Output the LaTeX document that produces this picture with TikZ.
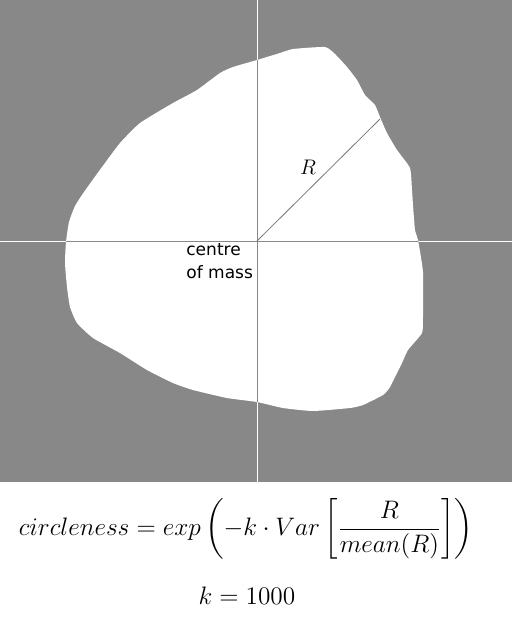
\documentclass[tikz,border=0pt]{standalone}
\usepackage{fontspec}
\usepackage{amsmath}
\usetikzlibrary{positioning}
\newfontfamily\labelfont{DejaVu Sans}
\definecolor{bggray}{RGB}{136,136,136}
\definecolor{radgray}{RGB}{120,120,120}
% outline of the particle, pixel coordinates (y down)
\def\blobpath{plot[smooth cycle, tension=0.3] coordinates {
  (257,60) (280,53) (293,49) (325,47) (335,54) (347,67) (357,80) (365,95)
  (375,105) (380,117) (387,133) (397,150) (410,168) (412,190) (413,205)
  (415,230) (418,240) (423,272) (423,317) (422,333) (408,350) (402,363)
  (390,387) (383,395) (363,405) (350,408) (313,411) (283,408) (257,402)
  (227,398) (193,390) (173,383) (147,370) (120,353) (93,338) (77,323)
  (70,307) (67,287) (65,263) (66,242) (69,222) (75,206) (84,192) (102,167)
  (120,143) (140,123) (173,103) (197,90) (220,73) (233,67)}}
\begin{document}
\begin{tikzpicture}[x=0.02cm, y=-0.02cm,
  axisline/.style={line width=0.55pt},
  radline/.style={radgray, line width=0.45pt},
  mathlabel/.style={inner sep=0pt, font=\fontsize{12.5}{15}\selectfont},
  formulalabel/.style={inner sep=0pt, font=\fontsize{14.4}{18}\selectfont},
  comlabel/.style={inner sep=0pt, align=left, anchor=north west, font=\labelfont\fontsize{9.7}{13}\selectfont}]
\useasboundingbox (0,0) rectangle (512,627);
\fill[bggray] (0,0) rectangle (512,482);
\coordinate (com) at (257,241);
\coordinate (top) at (257,0);
\coordinate (bottom) at (257,482);
\coordinate (left) at (0,241);
\coordinate (right) at (512,241);
\coordinate (rim) at (380,119);
% axes through the centre of mass: white on the background, grey on the particle
\draw[axisline, white] (top) -- (bottom) (left) -- (right);
\fill[white] \blobpath;
\begin{scope}
\clip \blobpath;
\draw[axisline, bggray] (top) -- (bottom) (left) -- (right);
\end{scope}
\draw[radline] (com) -- (rim);
\node[mathlabel] (rlabel) at (308,167) {$R$};
\node[comlabel] (comtext) at (186,243) {centre\\of mass};
% formula
\node[formulalabel] (formula) at (246,529) {$\displaystyle circleness = exp\left(-k\cdot Var\left[\frac{R}{mean(R)}\right]\right)$};
\node[formulalabel] (kvalue) at (247,596) {$k = 1000$};
\end{tikzpicture}
\end{document}
